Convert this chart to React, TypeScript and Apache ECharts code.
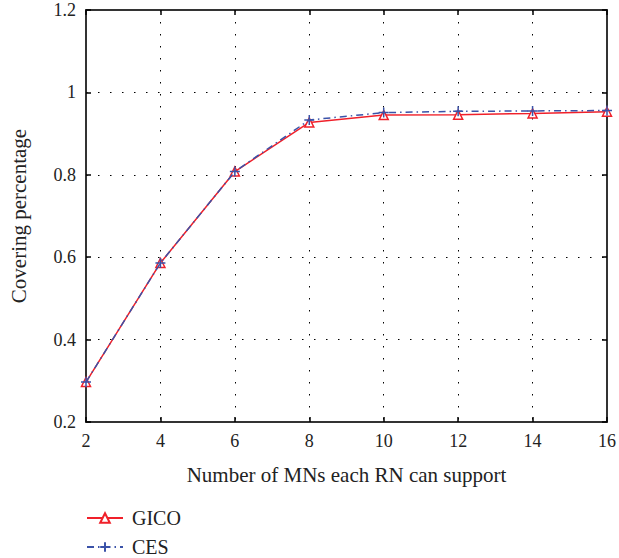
import React, { useEffect, useRef } from "react";
import * as echarts from "echarts";

const xValues = [2, 4, 6, 8, 10, 12, 14, 16];
const gicoValues = [0.297, 0.586, 0.808, 0.927, 0.945, 0.946, 0.949, 0.953];
const cesValues = [0.297, 0.586, 0.808, 0.933, 0.951, 0.954, 0.955, 0.956];
const seriesNames = ["GICO", "CES"];
const xTitle = "Number of MNs each RN can support";
const yTitle = "Covering percentage";

const FONT = "Liberation Serif";
const RED = "#f0202a";
const BLUE = "#3a52a8";
const AXIS = "#333333";

export default function App() {
  const ref = useRef<HTMLDivElement>(null);
  useEffect(() => {
    if (!ref.current) return;
    const chart = echarts.init(ref.current, null, { renderer: "svg" });
    const dotted = { type: [1.5, 10.5] as any, color: "#000", width: 1 };
    const legendBase = {
      orient: "vertical",
      left: 86,
      padding: 0,
      itemWidth: 36,
      itemHeight: 12,
      textStyle: { fontFamily: FONT, fontSize: 20, color: "#222", padding: [0, 0, 0, 4] },
    };
    chart.setOption({
      animation: false,
      backgroundColor: "#fff",
      grid: { left: 86, right: 12, top: 10, bottom: 136 },
      legend: [
        { ...legendBase, top: 508, data: [seriesNames[0]] },
        { ...legendBase, top: 537, data: [seriesNames[1]] },
      ],
      xAxis: [
        {
          type: "value",
          min: 2,
          max: 16,
          interval: 2,
          name: xTitle,
          nameLocation: "middle",
          nameGap: 42,
          nameTextStyle: { fontFamily: FONT, fontSize: 21, color: "#222" },
          axisLine: { show: true, lineStyle: { color: AXIS, width: 2 } },
          axisTick: { show: true, inside: true, length: 5, lineStyle: { color: "#000", width: 1.5 } },
          axisLabel: { fontFamily: FONT, fontSize: 18, color: "#222", margin: 10 },
          splitLine: { show: true, lineStyle: dotted },
        },
        {
          type: "value",
          position: "top",
          min: 2,
          max: 16,
          interval: 2,
          axisLine: { show: true, lineStyle: { color: AXIS, width: 2 } },
          axisTick: { show: true, inside: true, length: 5, lineStyle: { color: "#000", width: 1.5 } },
          axisLabel: { show: false },
          splitLine: { show: false },
        },
      ],
      yAxis: [
        {
          type: "value",
          min: 0.2,
          max: 1.2,
          interval: 0.2,
          name: yTitle,
          nameLocation: "middle",
          nameGap: 57,
          nameTextStyle: { fontFamily: FONT, fontSize: 21, color: "#222" },
          axisLine: { show: true, lineStyle: { color: AXIS, width: 2 } },
          axisTick: { show: true, inside: true, length: 5, lineStyle: { color: "#000", width: 1.5 } },
          axisLabel: {
            fontFamily: FONT,
            fontSize: 18,
            color: "#222",
            margin: 10,
            formatter: (v: number) => String(Math.round(v * 10) / 10),
          },
          splitLine: { show: true, lineStyle: dotted },
        },
        {
          type: "value",
          position: "right",
          min: 0.2,
          max: 1.2,
          interval: 0.2,
          axisLine: { show: true, lineStyle: { color: AXIS, width: 2 } },
          axisTick: { show: true, inside: true, length: 5, lineStyle: { color: "#000", width: 1.5 } },
          axisLabel: { show: false },
          splitLine: { show: false },
        },
      ],
      series: [
        {
          name: seriesNames[0],
          type: "line",
          data: xValues.map((x, i) => [x, gicoValues[i]]),
          symbol: "triangle",
          symbolSize: 9,
          showAllSymbol: true,
          lineStyle: { color: RED, width: 1.5 },
          itemStyle: { color: "#fff", borderColor: RED, borderWidth: 1.5 },
          z: 2,
        },
        {
          name: seriesNames[1],
          type: "line",
          data: xValues.map((x, i) => [x, cesValues[i]]),
          symbol: "path://M5,0 L5,10 M0,5 L10,5",
          symbolSize: 10,
          showAllSymbol: true,
          lineStyle: { color: BLUE, width: 1.5, type: [7, 4, 1.5, 4] as any },
          itemStyle: { color: "none", borderColor: BLUE, borderWidth: 1.5 },
          z: 3,
        },
      ],
    });
    return () => chart.dispose();
  }, []);
  return <div ref={ref} style={{ width: 619, height: 558, position: "absolute", left: 0, top: 0 }} />;
}
